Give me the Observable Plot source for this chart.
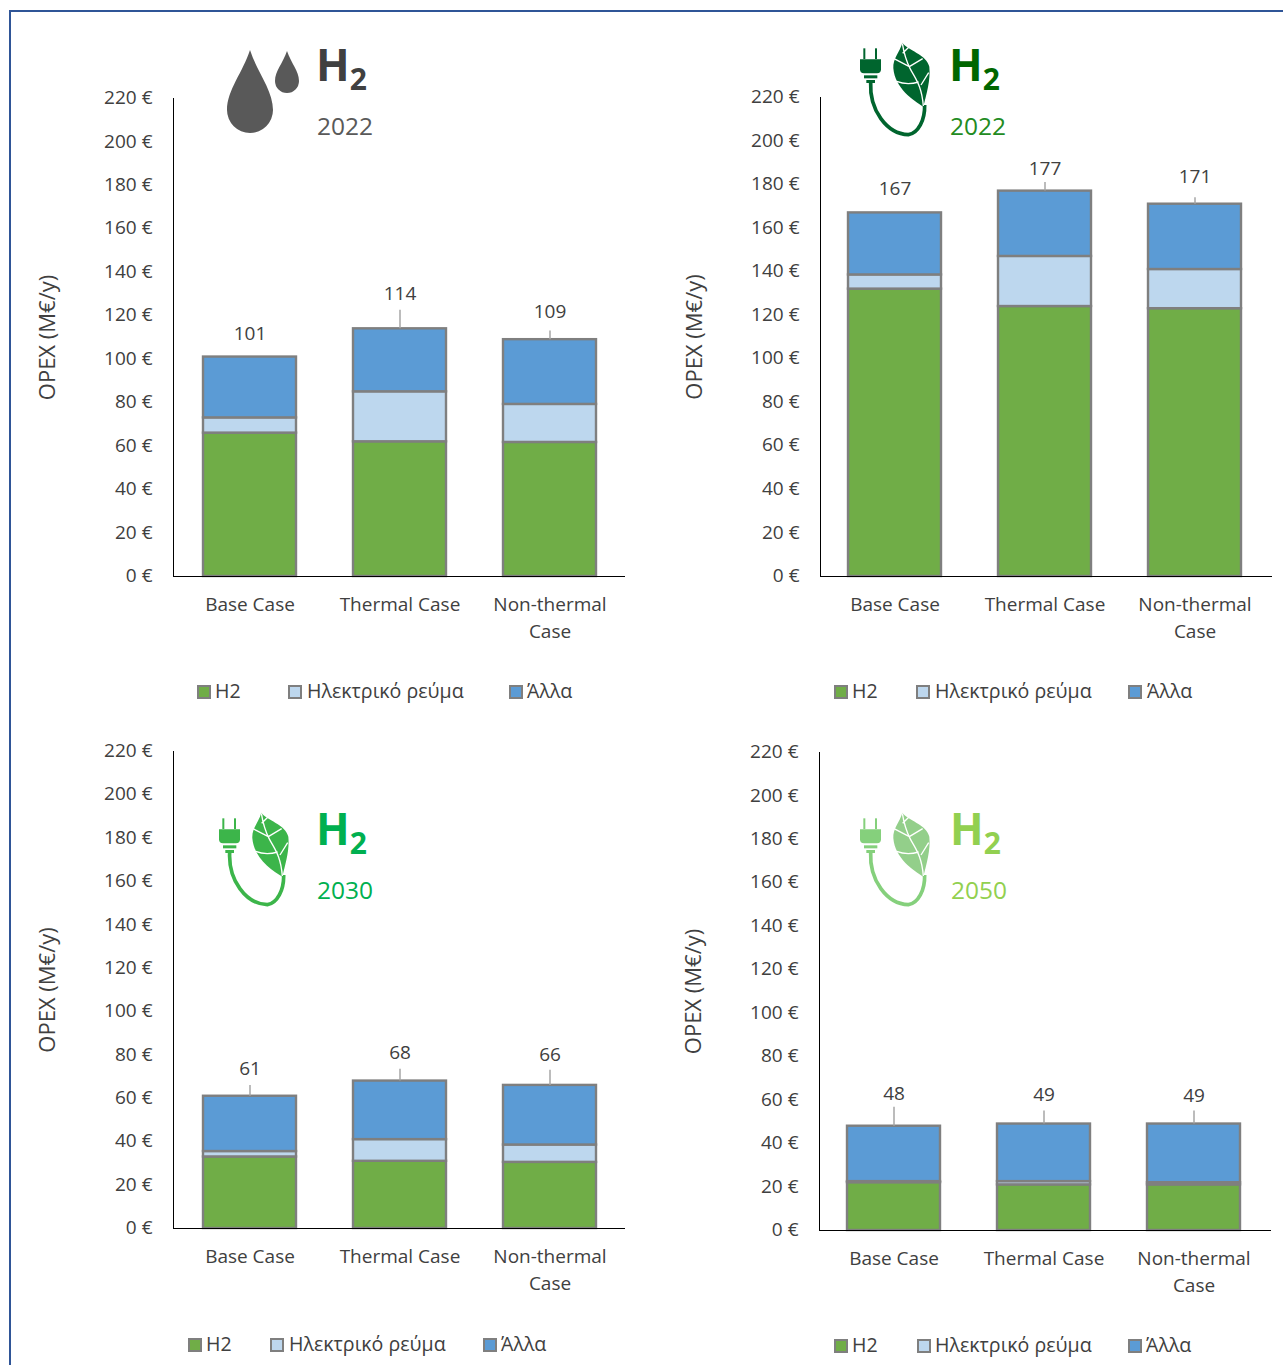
<!DOCTYPE html>
<html lang="el">
<head>
<meta charset="utf-8">
<title>OPEX</title>
<script src="https://cdn.jsdelivr.net/npm/d3@7"></script>
<script src="https://cdn.jsdelivr.net/npm/@observablehq/plot@0.6"></script>
<style>
  html, body { margin: 0; padding: 0; background: #fff; }
  body { position: relative; width: 1283px; height: 1365px; overflow: hidden; font-family: "Open Sans", "Noto Sans", sans-serif; color: #404040; }
  .frame { position: absolute; left: 9px; top: 10px; right: 0; bottom: 0; border-left: 2px solid #2f5597; border-top: 2px solid #2f5597; }
  .panel { position: absolute; }
  .panel svg { display: block; overflow: visible; }
  .h2 { position: absolute; font-weight: 700; font-size: 44px; line-height: 50px; white-space: nowrap; }
  .h2 sub { font-size: 30px; line-height: 0; vertical-align: -9px; }
  .year { position: absolute; font-size: 24.5px; line-height: 32px; }
  .legend-swatch { position: absolute; width: 10px; height: 10px; border: 2px solid #7f7f7f; }
  .legend-text { position: absolute; font-size: 19.6px; line-height: 24px; white-space: nowrap; color: #404040; }
  .icon { position: absolute; width: 200px; height: 120px; }
</style>
</head>
<body>
<div class="frame"></div>
<script>
const cases = ["Base Case", "Thermal Case", "Non-thermal\nCase"];
const seriesNames = ["H2", "Ηλεκτρικό ρεύμα", "Άλλα"];
const seriesColors = ["#70ad47", "#bdd7ee", "#5b9bd5"];
const yTicks = [0, 20, 40, 60, 80, 100, 120, 140, 160, 180, 200, 220];

// Operating cost per case, M€/y
const greyH2 = [66, 62, 61.7];
const greyPower = [7, 23, 17.5];
const greyOther = [28, 29, 29.8];
const greyTotals = [101, 114, 109];

const green22H2 = [132, 124, 123];
const green22Power = [6.5, 23, 18];
const green22Other = [28.5, 30, 30];
const green22Totals = [167, 177, 171];

const green30H2 = [33, 31, 30.5];
const green30Power = [2.5, 10, 8];
const green30Other = [25.5, 27, 27.5];
const green30Totals = [61, 68, 66];

const green50H2 = [22, 21, 21];
const green50Power = [0.5, 1.5, 1];
const green50Other = [25.5, 26.5, 27];
const green50Totals = [48, 49, 49];

// Height of each total label and its leader above the bar, in axis units
const greyLift = [10.8, 16, 12.8], greyLeader = [0, 8.5, 4];
const green22Lift = [10.8, 10.2, 12.6], green22Leader = [0, 4, 3];
const green30Lift = [12.4, 12.8, 14], green30Leader = [5, 5.5, 7];
const green50Lift = [15, 13.4, 13], green50Leader = [8.7, 6, 6];

const panels = [
  { left: 0, top: 70, axisLeft: 173, width: 624, pxTall: 478, barShift: 0.8, H2: greyH2, power: greyPower, other: greyOther, totals: greyTotals, lift: greyLift, leader: greyLeader,
    legendSwatch: [197, 288, 509], legendText: [215, 307, 527], legendY: 691 },
  { left: 646, top: 69, axisLeft: 174, width: 625, pxTall: 479, barShift: -1, H2: green22H2, power: green22Power, other: green22Other, totals: green22Totals, lift: green22Lift, leader: green22Leader,
    legendSwatch: [834, 916, 1128], legendText: [852, 935, 1147], legendY: 691 },
  { left: 0, top: 723, axisLeft: 173, width: 624, pxTall: 477, barShift: 0.8, H2: green30H2, power: green30Power, other: green30Other, totals: green30Totals, lift: green30Lift, leader: green30Leader,
    legendSwatch: [188, 270, 483], legendText: [206, 289, 501], legendY: 1344 },
  { left: 645, top: 724, axisLeft: 174, width: 625, pxTall: 478, barShift: -1, H2: green50H2, power: green50Power, other: green50Other, totals: green50Totals, lift: green50Lift, leader: green50Leader,
    legendSwatch: [834, 917, 1128], legendText: [852, 935, 1146], legendY: 1345 }
];

const fontFamily = '"Open Sans", "Noto Sans", sans-serif';
const marginTop = 28, marginBottom = 80;

function drawPanel(p) {
  const rows = cases.flatMap((c, i) => [
    { case: c, series: seriesNames[0], value: p.H2[i] },
    { case: c, series: seriesNames[1], value: p.power[i] },
    { case: c, series: seriesNames[2], value: p.other[i] }
  ]);
  const totals = cases.map((c, i) => ({ case: c, total: p.totals[i], lift: p.lift[i], leader: p.leader[i] }));

  const chart = Plot.plot({
    width: p.width,
    height: marginTop + p.pxTall + marginBottom,
    marginLeft: p.axisLeft,
    marginRight: 0,
    marginTop,
    marginBottom,
    style: { fontFamily, fontSize: "19px", color: "#404040", background: "transparent" },
    x: { domain: cases, paddingInner: 0.38, paddingOuter: 0.19, label: null, range: [p.axisLeft + p.barShift, p.width + p.barShift] },
    y: { domain: [0, 220], label: null },
    color: { domain: seriesNames, range: seriesColors },
    marks: [
      Plot.barY(rows, Plot.stackY({ order: seriesNames }, {
        x: "case", y: "value", fill: "series", stroke: "#7f7f7f", strokeWidth: 2.4
      })),
      Plot.ruleX(totals.filter((d) => d.leader > 0), {
        x: "case",
        y1: "total",
        y2: (d) => d.total + d.leader,
        stroke: "#a6a6a6",
        strokeWidth: 1.5
      }),
      Plot.text(totals, {
        x: "case",
        y: (d) => d.total + d.lift,
        text: "total",
        fontSize: 19,
        fill: "#404040"
      }),
      Plot.frame({ anchor: "left", stroke: "#000" }),
      Plot.frame({ anchor: "bottom", stroke: "#000" }),
      Plot.axisY({
        ticks: yTicks,
        tickSize: 0,
        tickPadding: 21,
        tickFormat: (d) => `${d} €`,
        fontSize: 19,
        dy: -0.5,
        label: null
      }),
      Plot.text(["OPEX (M€/y)"], {
        frameAnchor: "left",
        textAnchor: "middle",
        rotate: -90,
        dx: -125.5,
        fontSize: 22,
        fill: "#404040"
      }),
      Plot.axisX({
        tickSize: 0,
        tickPadding: 16,
        fontSize: 19,
        lineHeight: 1.39,
        label: null,
        lineWidth: Infinity
      })
    ]
  });

  const wrap = document.createElement("div");
  wrap.className = "panel";
  wrap.style.left = p.left + "px";
  wrap.style.top = p.top + "px";
  wrap.appendChild(chart);
  document.body.appendChild(wrap);

  seriesNames.forEach((name, i) => {
    const swatch = document.createElement("div");
    swatch.className = "legend-swatch";
    swatch.style.left = p.legendSwatch[i] + "px";
    swatch.style.top = p.legendY - 6 + "px";
    swatch.style.background = seriesColors[i];
    document.body.appendChild(swatch);
    const label = document.createElement("div");
    label.className = "legend-text";
    label.textContent = name;
    label.style.left = p.legendText[i] + "px";
    label.style.top = p.legendY - 12 + "px";
    document.body.appendChild(label);
  });
}

panels.forEach(drawPanel);

// Title blocks: icon, H₂ heading and year
function addTitle(x, y, text, h2Color, yearColor) {
  const h2 = document.createElement("div");
  h2.className = "h2";
  h2.style.left = x + "px";
  h2.style.top = y + "px";
  h2.style.color = h2Color;
  h2.innerHTML = "H<sub>2</sub>";
  document.body.appendChild(h2);
  const year = document.createElement("div");
  year.className = "year";
  year.style.left = x + 1 + "px";
  year.style.top = y + 71 + "px";
  year.style.color = yearColor;
  year.textContent = text;
  document.body.appendChild(year);
}
addTitle(316, 39, "2022", "#404040", "#595959");
addTitle(949, 39, "2022", "#006600", "#228b22");
addTitle(316, 803, "2030", "#00b050", "#00b050");
addTitle(950, 803, "2050", "#92d050", "#92d050");

function plugLeaf(left, top, color, plugColor) {
  const svg = `<svg class="icon" viewBox="0 0 600 360" style="left:${left}px;top:${top}px">
    <g fill="${plugColor}">
      <rect x="70" y="55" width="6" height="32"/><rect x="105" y="55" width="6" height="32"/>
      <path d="M60 88H123V118Q123 130 111 130H72Q60 130 60 118Z"/>
      <rect x="72" y="136" width="40" height="9"/><rect x="79" y="150" width="26" height="9"/>
    </g>
    <path fill="${color}" d="M187 38C200 58 262 75 268 110C272 150 260 190 250 230C220 212 165 175 160 115C158 85 180 65 187 38Z"/>
    <path d="M92 158C88 240 140 312 205 314C235 310 255 270 254 225" fill="none" stroke="${plugColor}" stroke-width="11"/>
    <path d="M187 40C192 70 200 95 210 115C225 145 245 165 250 228M162 86L208 110M208 110L248 86M170 154C190 162 215 162 236 156M243 165L266 128M188 70L210 48" fill="none" stroke="#fff" stroke-width="4"/>
  </svg>`;
  document.body.insertAdjacentHTML("beforeend", svg);
}
plugLeaf(840, 30, "#00652e", "#00652e");
plugLeaf(199, 800, "#3cb54a", "#3cb54a");
plugLeaf(840, 800, "#93cf8a", "#85d07c");

document.body.insertAdjacentHTML("beforeend", `<svg style="position:absolute;left:220px;top:44px" width="90" height="96" viewBox="220 44 90 96">
  <g fill="#595959">
    <path d="M250 50C243 72 227 90 227 110A23 23 0 0 0 273 110C273 90 257 72 250 50Z"/>
    <path d="M287 51C283 63 275 71 275 81A12 12 0 0 0 299 81C299 71 291 63 287 51Z"/>
  </g>
</svg>`);
</script>
</body>
</html>
